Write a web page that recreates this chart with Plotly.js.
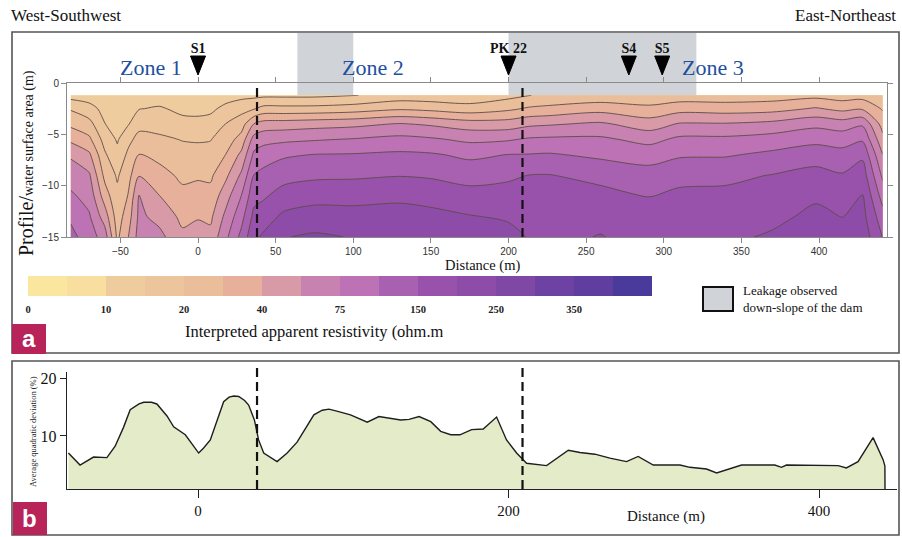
<!DOCTYPE html>
<html><head><meta charset="utf-8">
<script src="https://cdn.plot.ly/plotly-3.0.1.min.js"></script>
<style>html,body{margin:0;padding:0;background:#fff}#chart{width:902px;height:537px}</style>
</head><body><div id="chart"></div>
<script>
const W = 902, H = 537;

// ---------- Panel a : interpreted apparent resistivity section ----------
const distance = [-82,-70,-60,-52,-45,-38,-25,-10,0,8,18,28,36,42,55,75,100,130,150,175,200,213,226,259,291,310,340,370,398,415,428,441];
const depth = [-1.2,-2.5,-4,-5.5,-7,-9,-11,-13,-15];
// resistivity class (colour-bar class index, class k spans classEdgesOhm[k]..classEdgesOhm[k+1]); one profile per distance, top to bottom
const classByColumn = [
  [2.6,3.9,4.78,5.79,6.86,7.55,8.17,8.83,9.3],
  [2.5,3.36,4.33,5.2,6.17,7.13,7.63,8.1,8.5],
  [2.4,2.68,3.02,3.6,4.14,4.71,5.5,6.5,7.5],
  [2.3,2.48,2.69,2.9,3.25,3.88,4.23,4.51,4.8],
  [2.3,2.59,2.93,3.71,4.21,4.63,5.05,5.52,5.97],
  [2.4,2.96,3.67,4.35,5.02,5.95,7.04,7.22,7.4],
  [2.5,3.11,3.64,4.18,4.71,5.38,6.02,6.67,7.3],
  [2.4,2.77,3.3,3.96,4.33,4.79,5.27,5.76,6.2],
  [2.4,2.75,3.26,3.91,4.34,4.87,5.39,5.92,6.4],
  [2.4,2.81,3.36,3.96,4.34,4.83,5.32,5.8,6.3],
  [2.6,3.25,4.03,4.5,5.03,5.8,6.6,7.27,7.8],
  [2.7,3.67,4.56,5.41,6.25,7.2,8.03,8.67,9.3],
  [2.75,3.92,6.04,7.41,8.2,9.03,9.67,10.27,10.8],
  [2.8,4.31,6.44,7.67,8.5,9.29,9.86,10.5,11.15],
  [2.8,4.31,6.5,7.79,8.86,9.64,10.4,11.19,11.95],
  [2.8,4.33,6.63,7.92,9.04,9.81,10.65,11.43,12.15],
  [2.95,4.5,6.75,8.07,9.08,9.85,10.67,11.36,11.95],
  [3.4,4.86,7.08,8.29,9.19,9.96,10.79,11.39,11.9],
  [3.35,4.71,6.87,8.14,9.12,9.88,10.65,11.28,11.8],
  [3.3,4.43,6.5,7.8,8.8,9.63,10.36,11.05,11.6],
  [3.7,4.8,6.5,7.91,9.03,9.83,10.39,10.88,11.3],
  [3.97,5.13,6.8,8.13,9.05,10.02,10.32,10.63,10.95],
  [4.2,5.25,6.9,8.19,9.1,10.04,10.25,10.48,10.7],
  [4.3,5.62,7.17,8.19,8.81,9.72,10.3,10.7,11.05],
  [4.3,5.25,6.5,7.69,8.61,9.38,9.97,10.29,10.6],
  [4.4,5.62,7.09,8.22,8.87,9.77,10.16,10.38,10.6],
  [4.4,5.54,7.09,8.23,8.91,9.78,10.23,10.54,10.85],
  [4.5,5.64,7.3,8.44,9.22,10.04,10.42,10.81,11.1],
  [4.7,6.1,7.75,8.72,9.56,10.33,10.89,11.18,11.4],
  [4.5,5.73,7.5,8.61,9.33,10.09,10.53,10.98,11.25],
  [4.6,5.88,7.86,8.88,9.81,10.52,11.05,11.33,11.6],
  [4.2,4.9,5.6,6.3,7.02,7.8,8.6,9.4,9.97]
];
const classEdgesOhm = [0,5,10,15,20,30,40,57,75,112,150,200,250,300,350,400,450];
const classColors = ['#fae69e','#f8dfa0','#efcc9e','#edc59c','#ebbe9b','#e7b09a','#d99aa8','#c882b2',
                     '#bc72b4','#a860b0','#9852ab','#8c4ca8','#8048a5','#6e42a2','#5f3e9f','#4a3a9c'];
const resistivityTickLabels = ['0','10','20','40','75','150','250','350'];
const resistivityTickClass = [0,2,4,6,8,10,12,14];

const zoneBoundaries = [38, 209];
const leakageZones = [[64,100],[200,321]];
const siteNames = ['S1','PK 22','S4','S5'];
const siteDistance = [0,200,277.5,299];
const zoneNames = ['Zone 1','Zone 2','Zone 3'];
const zoneCenter = [-30,113,332];
const distTicksA = [-50,0,50,100,150,200,250,300,350,400];
const depthTicks = [0,-5,-10,-15];

// ---------- Panel b : average quadratic deviation ----------
const qdDistance = [-83.5,-76,-67.3,-58.7,-53.4,-48,-43.7,-38,-35,-30,-26.5,-20,-15.7,-8.2,0.4,3.6,7.9,12,16.5,20,23,26.2,30,32.6,34.5,36.3,39,42.3,50.9,57.4,63.8,74.6,80,84.3,90,98.2,109,116.5,130.5,135.9,142.4,149.9,156.3,162.8,168.7,176.2,183.7,192.3,198.7,205.2,211.6,224.5,238.5,246,255.6,265.3,276,283.5,293.2,310.4,316.8,327.5,334,340.4,350.1,371.5,375.8,379,400.5,412.3,417.6,425.1,434.8,441.3,442.4,442.5];
const qdValue = [7.0,4.9,6.3,6.2,8.2,11.5,14.6,15.6,15.9,15.9,15.6,13.5,11.6,10.2,7.0,7.9,9.3,12.4,16.0,16.8,17.0,16.9,16.2,15.4,14.0,12.8,9.3,7.0,5.5,7.0,8.9,13.7,14.5,14.7,14.3,13.7,12.4,13.4,12.8,12.9,13.4,12.5,10.8,10.2,10.2,11.1,11.2,13.3,9.3,7.0,5.2,4.8,7.5,7.1,6.8,6.1,5.5,6.4,4.9,4.9,4.5,4.2,3.5,4.1,4.9,4.9,4.5,4.9,4.8,4.8,4.4,5.5,9.7,5.8,4.7,0];
const distTicksB = [0,200,400];
const qdTicks = [10,20];

// ---------- build ----------
const z = depth.map((_, i) => classByColumn.map(col => col[i]));
const nLev = classColors.length;           // 16 classes
const cmin = -0.5, cmax = nLev + 0.5;      // matches contour fill colour mapping
const scale = [[0, classColors[0]]];
classColors.forEach((c, k) => {
  scale.push([(k + 0.55) / (nLev + 1), c]);
  scale.push([(k + 1.45) / (nLev + 1), c]);
});
scale.push([1, classColors[nLev - 1]]);

const serif = 'Liberation Serif';
const sans = 'Liberation Sans';
const px = v => v / W, py = v => 1 - v / H;

const traces = [
  {
    type: 'contour', x: distance, y: depth, z: z, xaxis: 'x', yaxis: 'y',
    colorscale: scale, zmin: cmin, zmax: cmax, zauto: false, showscale: false,
    autocontour: false, contours: {start: 0, end: nLev, size: 1, coloring: 'fill', showlines: true},
    line: {color: '#5e4c4a', width: 0.9, smoothing: 0.8}, hoverinfo: 'skip'
  },
  {
    type: 'heatmap', x: classColors.map((_, k) => k).concat([nLev]), y: [0, 1],
    z: [classColors.map((_, k) => k + 0.5)], xaxis: 'x3', yaxis: 'y3',
    colorscale: scale, zmin: cmin, zmax: cmax, zauto: false, showscale: false, hoverinfo: 'skip'
  },
  {
    type: 'scatter', mode: 'text', x: siteDistance, y: siteDistance.map(() => 0.68),
    xaxis: 'x', yaxis: 'y4', text: siteNames, textposition: 'middle center',
    textfont: {family: serif, size: 14, color: '#111', weight: 'bold'}, cliponaxis: false, hoverinfo: 'skip'
  },
  {
    type: 'scatter', mode: 'lines', x: qdDistance, y: qdValue, xaxis: 'x2', yaxis: 'y2',
    fill: 'tozeroy', fillcolor: '#e3ebc9', line: {color: '#1e1e1e', width: 1.4}, hoverinfo: 'skip'
  }
];

const axA = {showgrid: false, zeroline: false, showline: true, linecolor: '#8a8a8a', linewidth: 1,
  ticks: 'outside', ticklen: 5, tickcolor: '#8a8a8a', mirror: 'ticks',
  tickfont: {family: sans, size: 10, color: '#333'}};
const axB = {showgrid: false, zeroline: false, showline: true, linecolor: '#222', linewidth: 1.3,
  ticks: 'outside', tickcolor: '#222', tickfont: {family: serif, size: 15, color: '#111'}};

const shapes = [];
// frames
shapes.push({type: 'rect', xref: 'paper', yref: 'paper', x0: px(12), x1: px(899), y0: py(353), y1: py(32), line: {color: '#555', width: 1.6}, layer: 'below'});
shapes.push({type: 'rect', xref: 'paper', yref: 'paper', x0: px(12), x1: px(899), y0: py(535), y1: py(361), line: {color: '#555', width: 1.6}, layer: 'below'});
// leakage boxes
leakageZones.forEach(([a, b]) => shapes.push({type: 'rect', xref: 'x', yref: 'paper', x0: a, x1: b, y0: py(96), y1: py(33), fillcolor: '#d0d4d8', line: {width: 0}, layer: 'below'}));
// site markers (down-pointing triangles anchored at each site distance)
siteDistance.forEach(d => shapes.push({type: 'path', xref: 'x', yref: 'paper', xsizemode: 'pixel', ysizemode: 'pixel',
  xanchor: d, yanchor: py(75), path: 'M-7.5,19 L7.5,19 L0,0 Z', fillcolor: '#000', line: {color: '#000', width: 1}}));
// zone boundaries
zoneBoundaries.forEach(b => {
  shapes.push({type: 'line', xref: 'x', yref: 'y', x0: b, x1: b, y0: -15, y1: 0, line: {color: '#111', width: 2.2, dash: '9px,5px'}});
  shapes.push({type: 'line', xref: 'x2', yref: 'paper', x0: b, x1: b, y0: py(489), y1: py(364), line: {color: '#111', width: 2.2, dash: '9px,5px'}});
});
// panel label boxes
shapes.push({type: 'rect', xref: 'paper', yref: 'paper', x0: px(12), x1: px(46), y0: py(354), y1: py(324), fillcolor: '#b8235a', line: {width: 0}});
shapes.push({type: 'rect', xref: 'paper', yref: 'paper', x0: px(13), x1: px(47), y0: py(535), y1: py(502), fillcolor: '#b8235a', line: {width: 0}});
// legend swatch
shapes.push({type: 'rect', xref: 'paper', yref: 'paper', x0: px(703), x1: px(733), y0: py(311), y1: py(287), fillcolor: '#d0d4d8', line: {color: '#111', width: 2}});

const annotations = [
  {text: 'West-Southwest', x: px(9), y: py(15), xanchor: 'left', yanchor: 'middle', font: {family: serif, size: 17, color: '#111'}},
  {text: 'East-Northeast', x: px(898), y: py(15), xanchor: 'right', yanchor: 'middle', font: {family: serif, size: 17, color: '#111'}},
  {text: 'Profile/<span style="font-size:14px">water surface area (m)</span>', x: px(26), y: py(163), textangle: -90, xanchor: 'center', yanchor: 'middle', font: {family: serif, size: 20, color: '#111'}},
  {text: 'Distance (m)', x: px(482), y: py(265), xanchor: 'center', yanchor: 'middle', font: {family: serif, size: 14.5, color: '#111'}},
  {text: 'Interpreted apparent resistivity (ohm.m', x: px(314), y: py(331), xanchor: 'center', yanchor: 'middle', font: {family: serif, size: 16.5, color: '#111'}},
  {text: 'Leakage observed<br>down-slope of the dam', x: px(741), y: py(299), xanchor: 'left', yanchor: 'middle', align: 'left', font: {family: serif, size: 13, color: '#111'}},
  {text: 'a', x: px(29), y: py(338), xanchor: 'center', yanchor: 'middle', font: {family: sans, size: 24, color: '#fff', weight: 'bold'}},
  {text: 'b', x: px(30), y: py(518), xanchor: 'center', yanchor: 'middle', font: {family: sans, size: 24, color: '#fff', weight: 'bold'}},
  {text: 'Average quadratic deviation (%)', x: px(33), y: py(432), textangle: -90, xanchor: 'center', yanchor: 'middle', font: {family: serif, size: 8.5, color: '#222'}},
  {text: 'Distance (m)', x: px(666), y: py(516), xanchor: 'center', yanchor: 'middle', font: {family: serif, size: 15, color: '#111'}}
];
zoneNames.forEach((n, i) => annotations.push({text: n, xref: 'x', yref: 'paper', x: zoneCenter[i], y: py(67), xanchor: 'center', yanchor: 'middle', font: {family: serif, size: 22, color: '#1f4f9f'}}));
annotations.forEach(a => { if (!a.xref) a.xref = 'paper'; if (!a.yref) a.yref = 'paper'; a.showarrow = false; });

const layout = {
  width: W, height: H, margin: {l: 0, r: 0, t: 0, b: 0, autoexpand: false},
  paper_bgcolor: '#fff', plot_bgcolor: 'rgba(0,0,0,0)', showlegend: false,
  xaxis: Object.assign({}, axA, {domain: [px(67), px(887)], range: [-84.4, 443.8], anchor: 'y', tickvals: distTicksA}),
  yaxis: Object.assign({}, axA, {domain: [py(237), py(83)], range: [-15, 0], anchor: 'x', tickvals: depthTicks}),
  xaxis2: Object.assign({}, axB, {domain: [px(67), px(897)], range: [-84.4, 450.2], anchor: 'y2', tickvals: distTicksB, ticklen: 8}),
  yaxis2: Object.assign({}, axB, {domain: [py(489), py(372)], range: [0.7, 21.2], anchor: 'x2', tickvals: qdTicks, ticklen: 6, tickfont: {family: serif, size: 16, color: '#111'}}),
  xaxis3: {domain: [px(28), px(652)], range: [0, nLev], anchor: 'y3', showgrid: false, zeroline: false, showline: false,
    tickvals: resistivityTickClass, ticktext: resistivityTickLabels, ticks: 'outside', ticklen: 3, tickcolor: 'rgba(0,0,0,0)',
    tickfont: {family: serif, size: 10.5, color: '#222', weight: 'bold'}},
  yaxis3: {domain: [py(296), py(276)], range: [0, 1], anchor: 'x3', visible: false},
  yaxis4: {domain: [py(83), py(33)], range: [0, 1], anchor: 'x', visible: false},
  shapes: shapes, annotations: annotations
};

Plotly.newPlot('chart', traces, layout, {displayModeBar: false, staticPlot: true});
</script></body></html>
